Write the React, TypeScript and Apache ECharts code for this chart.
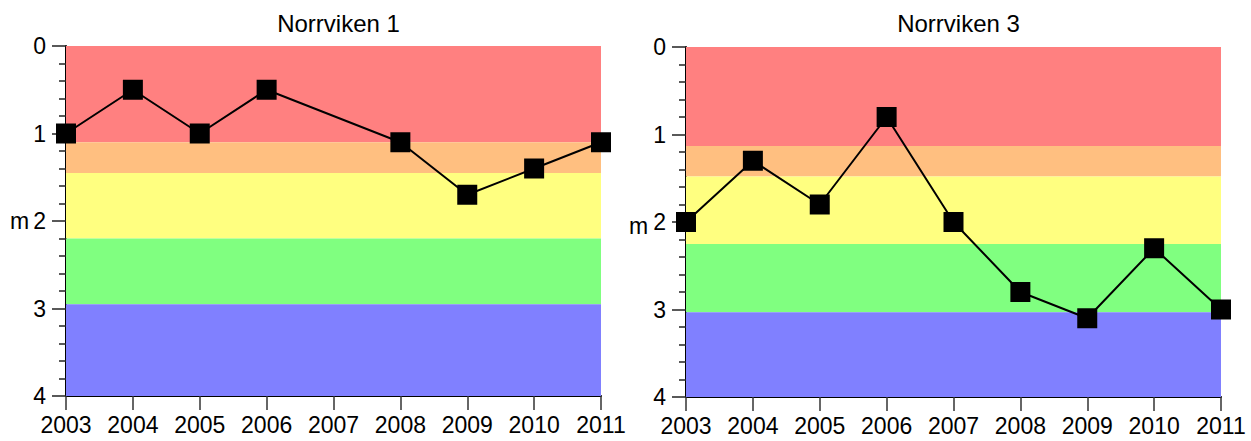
import React, { useEffect, useRef } from "react";
import * as echarts from "echarts";

const years = ["2003", "2004", "2005", "2006", "2007", "2008", "2009", "2010", "2011"];
const titles = ["Norrviken 1", "Norrviken 3"];
const depth1: (number | null)[] = [1.0, 0.5, 1.0, 0.5, null, 1.1, 1.7, 1.4, 1.1];
const depth3: (number | null)[] = [2.0, 1.3, 1.8, 0.8, 2.0, 2.8, 3.1, 2.3, 3.0];
const bandColors = ["#FF8080", "#FFBF80", "#FFFF80", "#80FF80", "#8080FF"];
const bands1 = [0, 1.1, 1.45, 2.2, 2.95, 4];
const bands3 = [0, 1.13, 1.48, 2.25, 3.03, 4];
const yTicks = [0, 1, 2, 3, 4];

const FONT = "Liberation Sans, Arial, sans-serif";

export default function App() {
  const ref = useRef<HTMLDivElement>(null);
  useEffect(() => {
    if (!ref.current) return;
    const chart = echarts.init(ref.current, null, { renderer: "svg" });
    const grids = [
      { left: 66, top: 46, width: 535, height: 350 },
      { left: 686, top: 47, width: 535, height: 350 },
    ];
    const datasets = [depth1, depth3];
    const bandSets = [bands1, bands3];
    const mkBands = (b: number[]) =>
      bandColors.map((c, i) => [
        { yAxis: b[i], itemStyle: { color: c, opacity: 1, borderWidth: 0 } },
        { yAxis: b[i + 1] },
      ]);
    const option: any = {
      animation: false,
      textStyle: { fontFamily: FONT },
      title: titles.map((t, i) => ({
        text: t,
        left: grids[i].left + grids[i].width / 2,
        textAlign: "center",
        top: 6,
        textStyle: { fontFamily: FONT, fontSize: 24, fontWeight: "normal", color: "#000" },
      })),
      grid: grids.map((g) => ({ ...g, containLabel: false })),
      xAxis: grids.map((_, i) => ({
        type: "category",
        gridIndex: i,
        position: "bottom",
        data: years,
        boundaryGap: false,
        axisLine: { show: true, onZero: false, lineStyle: { color: "#000", width: 2 } },
        axisTick: { show: true, length: 14, lineStyle: { color: "#333", width: 1.5 }, alignWithLabel: true, interval: 0 },
        axisLabel: { color: "#000", fontSize: 23, fontFamily: FONT, margin: 17, interval: 0 },
        splitLine: { show: false },
      })),
      yAxis: grids.map((_, i) => ({
        type: "value",
        gridIndex: i,
        min: 0,
        max: 4,
        interval: 1,
        inverse: true,
        axisLine: { show: true, onZero: false, lineStyle: { color: "#000", width: 2 } },
        axisTick: { show: true, length: 14, lineStyle: { color: "#222", width: 1.5 } },
        minorTick: { show: true, splitNumber: 5, length: 7, lineStyle: { color: "#222", width: 1.5 } },
        axisLabel: {
          color: "#000",
          fontSize: 23,
          fontFamily: FONT,
          margin: 20,
          formatter: (v: number) => (yTicks.includes(v) ? String(v) : ""),
        },
        splitLine: { show: false },
      })),
      series: datasets.flatMap((d, i) => [
        {
          type: "line",
          xAxisIndex: i,
          yAxisIndex: i,
          data: [],
          z: 1,
          markArea: { silent: true, label: { show: false }, data: mkBands(bandSets[i]) },
        },
        {
          type: "line",
          xAxisIndex: i,
          yAxisIndex: i,
          data: d,
          connectNulls: true,
          z: 5,
          symbol: "rect",
          symbolSize: 20,
          lineStyle: { color: "#000", width: 2 },
          itemStyle: { color: "#000" },
        },
      ]),
      graphic: [
        { type: "text", left: 10, top: 209, style: { text: "m", fontSize: 23, fontFamily: FONT, fill: "#000" } },
        { type: "text", left: 629, top: 214, style: { text: "m", fontSize: 23, fontFamily: FONT, fill: "#000" } },
      ],
    };
    chart.setOption(option);
    return () => chart.dispose();
  }, []);
  return (
    <div
      ref={ref}
      style={{ position: "absolute", left: 0, top: 0, width: 1251, height: 441 }}
    />
  );
}
